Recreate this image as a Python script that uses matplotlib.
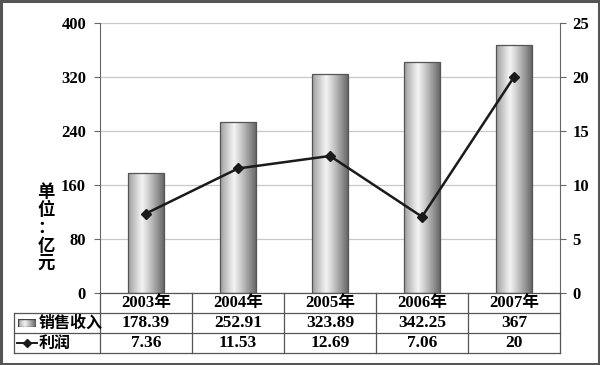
import numpy as np
import matplotlib.pyplot as plt
from matplotlib.patches import Rectangle
from matplotlib.lines import Line2D

plt.rcParams['font.family'] = ['Liberation Serif', 'Noto Sans CJK SC']
plt.rcParams['font.weight'] = 'bold'

# data
years = ['2003年', '2004年', '2005年', '2006年', '2007年']
sales = [178.39, 252.91, 323.89, 342.25, 367]
profit = [7.36, 11.53, 12.69, 7.06, 20]
sales_txt = ['178.39', '252.91', '323.89', '342.25', '367']
profit_txt = ['7.36', '11.53', '12.69', '7.06', '20']
series_names = ['销售收入', '利润']
left_ticks = [0, 80, 160, 240, 320, 400]
right_ticks = [0, 5, 10, 15, 20, 25]

W, H = 600, 365
fig = plt.figure(figsize=(6, 3.65), dpi=100)


def fx(px):
    return px / W


def fy(py):
    return 1 - py / H


# plot area in pixels
L, R, T, B = 100, 560, 23, 293
ax = fig.add_axes([fx(L), fy(B), fx(R - L), (B - T) / H])
x = np.arange(len(years))
ax.set_yticks(left_ticks)
ax.set_xticks([])
ax.grid(axis='y', color='#c8c8c8', lw=0.9)
ax.set_axisbelow(True)
for s in ['top', 'bottom', 'right']:
    ax.spines[s].set_visible(False)
ax.spines['left'].set_color('#666666')
ax.tick_params(axis='y', length=4, color='#666666', labelsize=12, pad=6)

# cylinder-like gradient for bars
prof = np.linspace(0, 1, 64)
shade = 0.95 - 0.6 * np.abs(prof - 0.38) ** 1.1 * 1.6
grad = np.clip(shade, 0.28, 1.0)[None, :]

bw = 0.4
bars = ax.bar(x, sales, width=bw, color='none', edgecolor='#555555', lw=0.9, zorder=3)
for xi, h, b in zip(x, sales, bars):
    im = ax.imshow(grad, cmap='gray', vmin=0, vmax=1, aspect='auto',
                   extent=[xi - bw / 2, xi + bw / 2, 0, h], zorder=2)
    im.set_clip_path(b)
ax.set_xlim(-0.5, len(years) - 0.5)
ax.set_ylim(0, 400)

ax2 = ax.twinx()
ax2.set_ylim(0, 25)
ax2.set_yticks(right_ticks)
ax2.plot(x, profit, color='#1a1a1a', lw=1.8, marker='D', ms=5, zorder=5)
for s in ['top', 'bottom', 'left']:
    ax2.spines[s].set_visible(False)
ax2.spines['right'].set_color('#666666')
ax2.tick_params(axis='y', length=4, color='#666666', labelsize=12, pad=5)

# y-axis unit label, stacked vertically
fig.text(fx(46), fy(228), '\n'.join('单位：亿元'), ha='center', va='center',
         fontsize=12.5, linespacing=1.0, family=['Noto Sans CJK SC'], weight='bold')

# data table below the axes
col_w = (R - L) / len(years)
lab_l = 14
lc = '#555555'


def hline(y, x0, x1):
    fig.add_artist(Line2D([fx(x0), fx(x1)], [fy(y), fy(y)], color=lc, lw=0.9))


def vline(xp, y0, y1):
    fig.add_artist(Line2D([fx(xp), fx(xp)], [fy(y0), fy(y1)], color=lc, lw=0.9))


hline(293, L, R)
hline(313, lab_l, R)
hline(333, lab_l, R)
hline(353, lab_l, R)
for i in range(len(years) + 1):
    vline(L + i * col_w, 293, 353)
vline(lab_l, 313, 353)

for i, yr in enumerate(years):
    cx = L + (i + 0.5) * col_w
    fig.text(fx(cx), fy(303), yr, ha='center', va='center', fontsize=12)
    fig.text(fx(cx), fy(323), sales_txt[i], ha='center', va='center', fontsize=12.5)
    fig.text(fx(cx), fy(343), profit_txt[i], ha='center', va='center', fontsize=12.5)

# legend keys inside the table
icon_ax = fig.add_axes([fx(18), fy(327), fx(18), 8 / H])
icon_ax.imshow(grad, cmap='gray', vmin=0, vmax=1, aspect='auto', extent=[0, 1, 0, 1])
icon_ax.add_patch(Rectangle((0, 0), 1, 1, fill=False, ec='#444444', lw=1))
icon_ax.set_xlim(0, 1)
icon_ax.set_ylim(0, 1)
icon_ax.axis('off')
fig.text(fx(39), fy(323), series_names[0], ha='left', va='center', fontsize=11.5,
         family=['Noto Sans CJK SC'], weight='bold')
fig.add_artist(Line2D([fx(17), fx(37)], [fy(343), fy(343)], color='#1a1a1a', lw=1.4))
fig.add_artist(Line2D([fx(27)], [fy(343)], color='#1a1a1a', marker='D', ms=4))
fig.text(fx(39), fy(343), series_names[1], ha='left', va='center', fontsize=11.5,
         family=['Noto Sans CJK SC'], weight='bold')

# outer frame
fig.add_artist(Rectangle((0.002, 0.003), 0.996, 0.994, transform=fig.transFigure,
                         fill=False, ec='#555555', lw=2.2))

fig.savefig('out.png', dpi=100)
